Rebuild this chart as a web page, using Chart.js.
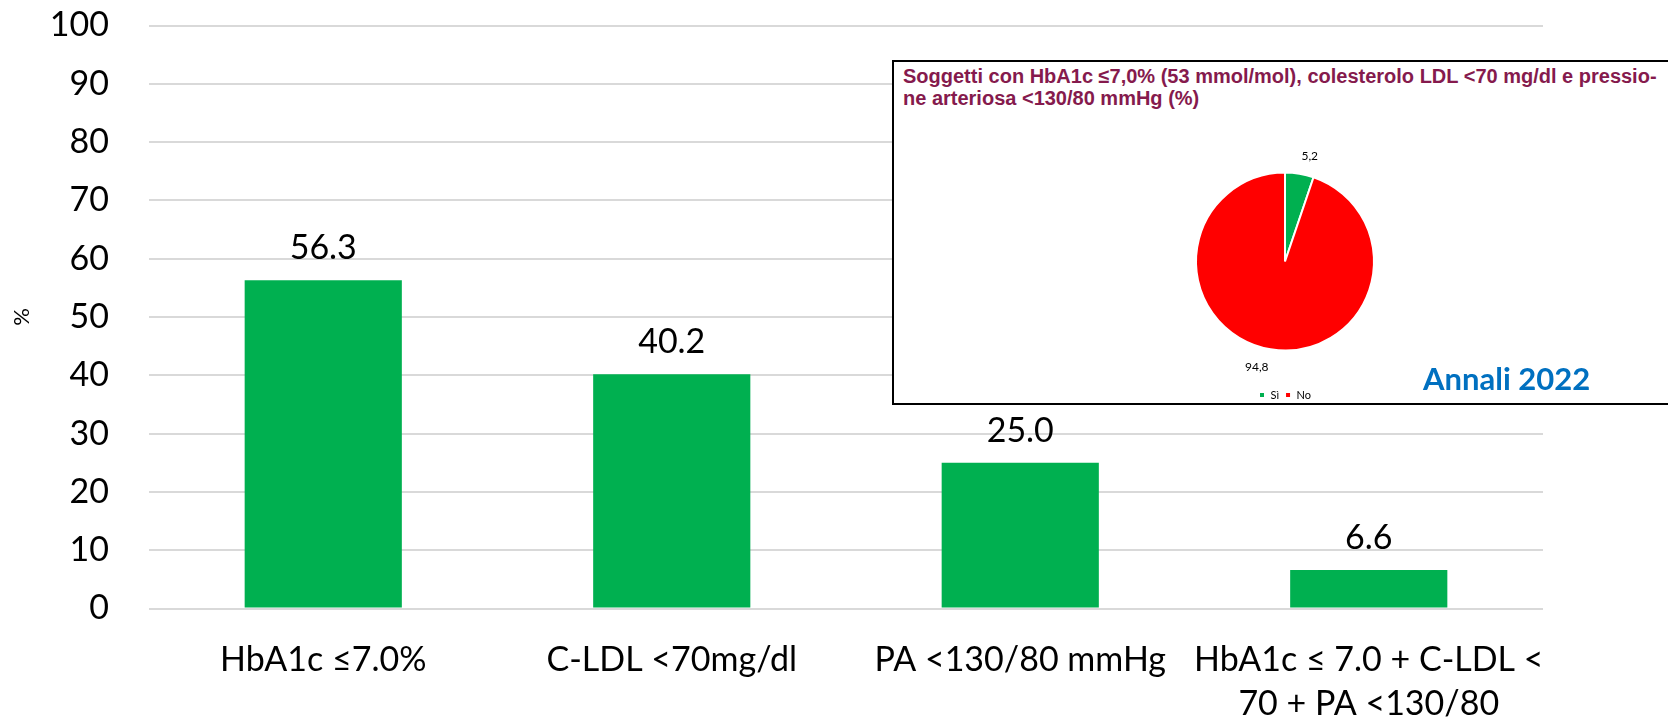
<!DOCTYPE html>
<html lang="it">
<head>
<meta charset="utf-8">
<title>Annali 2022 – Target raggiunti</title>
<script src="https://cdn.jsdelivr.net/npm/chart.js@4.4.1/dist/chart.umd.min.js"></script>
<style>
  html, body { margin: 0; padding: 0; background: #fff; overflow: hidden; }
  #wrap { position: relative; width: 1668px; height: 720px; }
  #bars { position: absolute; left: 0; top: 0; }
  #inset {
    position: absolute; left: 892px; top: 60px; width: 800px; height: 345px;
    box-sizing: border-box; border: 2px solid #000; border-right: none;
    background: #fff;
  }
  #insetTitle {
    position: absolute; left: 903px; top: 65px;
    font-family: "Liberation Sans", Arial, sans-serif; font-weight: bold;
    font-size: 20px; line-height: 22px; color: #851A4D; white-space: nowrap;
  }
  #pie { position: absolute; left: 1145px; top: 62px; }
  #annali {
    position: absolute; left: 1423px; top: 362.5px;
    font-family: Lato, sans-serif; font-weight: bold; font-size: 31px;
    line-height: 31px; color: #0070C0; white-space: nowrap;
  }
</style>
</head>
<body>
<div id="wrap">
  <canvas id="bars" width="1668" height="720"></canvas>
  <div id="inset"></div>
  <div id="insetTitle">Soggetti con HbA1c ≤7,0% (53 mmol/mol), colesterolo LDL &lt;70 mg/dl e pressio-<br>ne arteriosa &lt;130/80 mmHg (%)</div>
  <canvas id="pie" width="280" height="350"></canvas>
  <div id="annali">Annali 2022</div>
</div>
<script>
// Target categories and share of subjects reaching each (%)
const categories = [
  'HbA1c ≤7.0%',
  'C-LDL <70mg/dl',
  'PA <130/80 mmHg',
  ['HbA1c ≤ 7.0 + C-LDL <', '70 + PA <130/80']
];
const percentages = [56.3, 40.2, 25.0, 6.6];

// Subjects meeting all three targets (%)
const pieLabels = ['Sì', 'No'];
const pieValues = [5.2, 94.8];

const GREEN = '#00B050';
const RED = '#FF0000';
const GRID = '#D9D9D9';

Chart.defaults.font.family = 'Lato, "Open Sans", sans-serif';
Chart.defaults.color = '#000';

// Value above each bar
const barValueLabels = {
  id: 'barValueLabels',
  afterDatasetsDraw(chart) {
    const ctx = chart.ctx;
    const meta = chart.getDatasetMeta(0);
    ctx.save();
    ctx.font = '34px Lato, sans-serif';
    ctx.fillStyle = '#000';
    ctx.textAlign = 'center';
    ctx.textBaseline = 'alphabetic';
    meta.data.forEach((bar, i) => {
      ctx.fillText(percentages[i].toFixed(1), bar.x, bar.y - 21);
    });
    ctx.restore();
  }
};

new Chart(document.getElementById('bars'), {
  type: 'bar',
  data: {
    labels: categories,
    datasets: [{
      data: percentages,
      backgroundColor: GREEN,
      borderWidth: 0,
      categoryPercentage: 1,
      barPercentage: 0.451
    }]
  },
  options: {
    responsive: false,
    animation: false,
    layout: { padding: { top: 25.5, right: 125, left: 0, bottom: 0 } },
    plugins: { legend: { display: false }, tooltip: { enabled: false } },
    scales: {
      y: {
        min: 0, max: 100,
        ticks: { stepSize: 10, padding: 0, font: { size: 34 }, color: '#000' },
        // invisible tick marks keep the labels clear of the grid
        grid: { color: GRID, lineWidth: 2, drawTicks: true, tickLength: 40, tickColor: 'rgba(0,0,0,0)' },
        border: { display: false },
        title: { display: true, text: '%', font: { size: 22, lineHeight: 1.2 }, color: '#000', padding: { top: 9, bottom: 0 } },
        afterFit(scale) { scale.width = 149; }
      },
      x: {
        ticks: { font: { size: 34, lineHeight: 1.3 }, color: '#000', padding: 29, maxRotation: 0, autoSkip: false },
        grid: { display: false, drawTicks: false },
        border: { display: false },
        afterFit(scale) { scale.height = 111.5; }
      }
    }
  },
  plugins: [barValueLabels]
});

// Value labels just outside each slice
const pieValueLabels = {
  id: 'pieValueLabels',
  afterDatasetsDraw(chart) {
    const ctx = chart.ctx;
    const meta = chart.getDatasetMeta(0);
    ctx.save();
    ctx.font = '12px Lato, sans-serif';
    ctx.fillStyle = '#000';
    ctx.textAlign = 'center';
    ctx.textBaseline = 'middle';
    meta.data.forEach((arc, i) => {
      const p = arc.getProps(['x', 'y', 'startAngle', 'endAngle', 'outerRadius'], true);
      const mid = (p.startAngle + p.endAngle) / 2;
      const c = Math.cos(mid), s = Math.sin(mid);
      const text = pieValues[i].toFixed(1).replace('.', ',');
      const w = ctx.measureText(text).width;
      const d = p.outerRadius + 12;
      const tx = p.x + c * d + Math.sign(c) * w / 2;
      const ty = p.y + s * d + Math.sign(s) * 5.5;
      ctx.fillText(text, tx, ty);
    });
    ctx.restore();
  }
};

new Chart(document.getElementById('pie'), {
  type: 'pie',
  data: {
    labels: pieLabels,
    datasets: [{
      data: pieValues,
      backgroundColor: [GREEN, RED],
      borderColor: '#fff',
      borderWidth: 2
    }]
  },
  options: {
    responsive: false,
    animation: false,
    layout: { padding: { top: 77.5, bottom: 1.5, left: 50, right: 50 } },
    plugins: {
      tooltip: { enabled: false },
      legend: {
        position: 'bottom',
        labels: {
          boxWidth: 6, boxHeight: 6, padding: 6,
          font: { size: 11 }, color: '#000'
        }
      }
    }
  },
  plugins: [pieValueLabels]
});
</script>
</body>
</html>
